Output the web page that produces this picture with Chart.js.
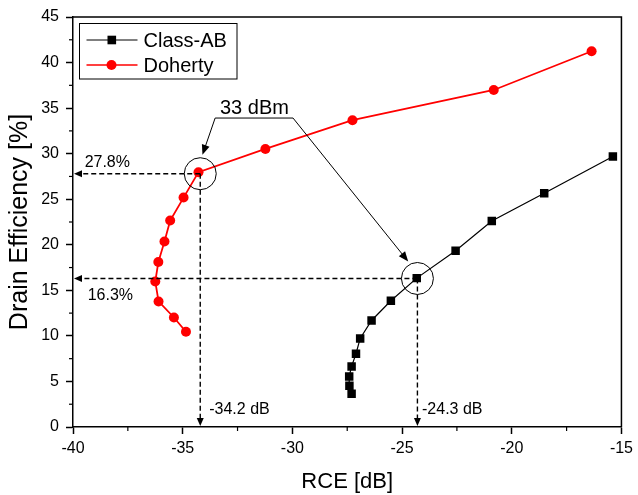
<!DOCTYPE html>
<html>
<head>
<meta charset="utf-8">
<script src="https://cdn.jsdelivr.net/npm/chart.js@4/dist/chart.umd.min.js"></script>
<style>
  html, body { margin: 0; padding: 0; background: #fff; }
  #wrap { width: 638px; height: 495px; }
</style>
</head>
<body>
<div id="wrap"><canvas id="chart" width="638" height="495"></canvas></div>
<script>
// values (RCE in dB, drain efficiency in %)
const classAbRce = [-27.30, -27.40, -27.41, -27.30, -27.10, -26.91, -26.39, -25.51, -24.33, -22.56, -20.91, -18.52, -15.39];
const classAbEff = [3.65, 4.53, 5.55, 6.65, 8.04, 9.72, 11.69, 13.85, 16.34, 19.34, 22.6, 25.66, 29.68];
const dohertyRce = [-34.85, -35.40, -36.10, -36.25, -36.11, -35.83, -35.57, -34.96, -34.28, -31.23, -27.26, -20.82, -16.36];
const dohertyEff = [10.45, 12.02, 13.78, 15.97, 18.1, 20.36, 22.66, 25.18, 27.97, 30.52, 33.67, 36.99, 41.24];

const xRange = [-40, -15];
const yRange = [0, 45];
const majorStep = 5;
const minorStep = 2.5;

// 33 dBm operating points
const markRce = [-34.2, -24.3];
const markEff = [27.8, 16.3];
const markRceLabels = ["-34.2 dB", "-24.3 dB"];
const markEffLabels = ["27.8%", "16.3%"];

const FONT = "'Liberation Sans', Arial, sans-serif";

function toPoints(xs, ys) {
    return xs.map((v, i) => ({ x: v, y: ys[i] }));
}

function arrow(ctx, x0, y0, x1, y1, len, half, dash) {
    const ang = Math.atan2(y1 - y0, x1 - x0);
    const c = Math.cos(ang), s = Math.sin(ang);
    ctx.save();
    ctx.setLineDash(dash || []);
    ctx.beginPath();
    ctx.moveTo(x0, y0);
    ctx.lineTo(x1 - c * len * 0.7, y1 - s * len * 0.7);
    ctx.stroke();
    ctx.setLineDash([]);
    ctx.beginPath();
    ctx.moveTo(x1, y1);
    ctx.lineTo(x1 - c * len - s * half, y1 - s * len + c * half);
    ctx.lineTo(x1 - c * len + s * half, y1 - s * len - c * half);
    ctx.closePath();
    ctx.fill();
    ctx.restore();
}

const decorPlugin = {
    id: "decor",
    afterDatasetsDraw(chart) {
        const { ctx, chartArea: a, scales: { x, y } } = chart;
        ctx.save();
        ctx.strokeStyle = "#000";
        ctx.fillStyle = "#000";

        // frame top and right
        ctx.lineWidth = 1.5;
        ctx.beginPath();
        ctx.moveTo(a.left, a.top);
        ctx.lineTo(a.right, a.top);
        ctx.lineTo(a.right, a.bottom);
        ctx.stroke();

        // minor ticks
        ctx.lineWidth = 1.2;
        for (let v = xRange[0] + minorStep; v < xRange[1]; v += majorStep) {
            const px = x.getPixelForValue(v);
            ctx.beginPath();
            ctx.moveTo(px, a.bottom);
            ctx.lineTo(px, a.bottom + 4);
            ctx.stroke();
        }
        for (let v = yRange[0] + minorStep; v < yRange[1]; v += majorStep) {
            const py = y.getPixelForValue(v);
            ctx.beginPath();
            ctx.moveTo(a.left, py);
            ctx.lineTo(a.left - 4, py);
            ctx.stroke();
        }

        // dashed guide lines with arrows to the axes
        ctx.lineWidth = 1.4;
        const dash = [5, 3];
        markRce.forEach((r, i) => {
            const px = x.getPixelForValue(r);
            const py = y.getPixelForValue(markEff[i]);
            arrow(ctx, px, py, a.left + 1, py, 8, 3.5, dash);
            arrow(ctx, px, py, px, a.bottom - 1, 8, 3.5, dash);
            // circle around the point
            ctx.lineWidth = 1;
            ctx.beginPath();
            ctx.arc(px, py, 16, 0, Math.PI * 2);
            ctx.stroke();
            ctx.lineWidth = 1.4;
        });

        // labels
        ctx.font = "16px " + FONT;
        ctx.textBaseline = "middle";
        ctx.textAlign = "left";
        ctx.fillText(markEffLabels[0], x.getPixelForValue(-39.47), y.getPixelForValue(29.0));
        ctx.fillText(markEffLabels[1], x.getPixelForValue(-39.33), y.getPixelForValue(14.4));
        ctx.fillText(markRceLabels[0], x.getPixelForValue(-33.79), y.getPixelForValue(1.9));
        ctx.fillText(markRceLabels[1], x.getPixelForValue(-24.09), y.getPixelForValue(1.9));

        // "33 dBm" callout
        ctx.font = "20px " + FONT;
        ctx.textAlign = "center";
        ctx.fillText("33 dBm", x.getPixelForValue(-31.73), y.getPixelForValue(35.0));
        const bx0 = x.getPixelForValue(-33.52), bx1 = x.getPixelForValue(-29.97);
        const by = y.getPixelForValue(33.91);
        ctx.lineWidth = 1;
        ctx.beginPath();
        ctx.moveTo(bx0, by);
        ctx.lineTo(bx1, by);
        ctx.stroke();
        arrow(ctx, bx0, by, x.getPixelForValue(-34.10), y.getPixelForValue(29.87), 10, 4);
        arrow(ctx, bx1, by, x.getPixelForValue(-24.72), y.getPixelForValue(18.16), 10, 4);

        // legend
        const lx = 79.5, ly = 23.5, lw = 157.5, lh = 55.5;
        ctx.lineWidth = 1;
        ctx.strokeRect(lx, ly, lw, lh);
        const rows = [
            { label: "Class-AB", color: "#000", style: "rect", cy: 40 },
            { label: "Doherty", color: "#ff0000", style: "circle", cy: 65 }
        ];
        ctx.font = "20px " + FONT;
        ctx.textAlign = "left";
        rows.forEach(r => {
            ctx.strokeStyle = r.color;
            ctx.fillStyle = r.color;
            ctx.lineWidth = r.style === "rect" ? 1 : 1.6;
            ctx.beginPath();
            ctx.moveTo(86.5, r.cy);
            ctx.lineTo(137.5, r.cy);
            ctx.stroke();
            if (r.style === "rect") {
                ctx.fillRect(107.5, r.cy - 4.3, 8.6, 8.6);
            } else {
                ctx.beginPath();
                ctx.arc(111.5, r.cy, 5, 0, Math.PI * 2);
                ctx.fill();
            }
            ctx.fillStyle = "#000";
            ctx.fillText(r.label, 143.5, r.cy + 1);
        });
        ctx.restore();
    }
};

new Chart(document.getElementById("chart"), {
    type: "scatter",
    data: {
        datasets: [
            {
                label: "Class-AB",
                data: toPoints(classAbRce, classAbEff),
                showLine: true,
                borderColor: "#000",
                backgroundColor: "#000",
                borderWidth: 1.2,
                pointStyle: "rect",
                pointRadius: 6,
                pointBorderWidth: 0,
                tension: 0,
            },
            {
                label: "Doherty",
                data: toPoints(dohertyRce, dohertyEff),
                showLine: true,
                borderColor: "#ff0000",
                backgroundColor: "#ff0000",
                borderWidth: 1.8,
                pointStyle: "circle",
                pointRadius: 5,
                pointBorderWidth: 0,
                tension: 0,
            },
        ],
    },
    options: {
        responsive: false,
        animation: false,
        devicePixelRatio: 1,
        layout: { padding: { left: 0, right: 13, top: 17, bottom: 0 } },
        plugins: {
            legend: { display: false },
            tooltip: { enabled: false },
        },
        scales: {
            x: {
                type: "linear",
                min: xRange[0],
                max: xRange[1],
                afterFit: s => { s.height = 68; },
                border: { display: true, color: "#000", width: 1.5 },
                grid: { drawOnChartArea: false, tickLength: 7, tickColor: "#000", tickWidth: 1.5 },
                ticks: { stepSize: majorStep, color: "#000", padding: 5, font: { family: FONT, size: 16 } },
                title: { display: true, text: "RCE [dB]", color: "#000", padding: { top: 0, bottom: 0 }, font: { family: FONT, size: 22 } },
            },
            y: {
                type: "linear",
                min: yRange[0],
                max: yRange[1],
                afterFit: s => { s.width = 73; },
                border: { display: true, color: "#000", width: 1.5 },
                grid: { drawOnChartArea: false, tickLength: 7, tickColor: "#000", tickWidth: 1.5 },
                ticks: { stepSize: majorStep, color: "#000", padding: 7, font: { family: FONT, size: 16 } },
                title: { display: true, text: "Drain Efficiency [%]", color: "#000", padding: { top: 5, bottom: 0 }, font: { family: FONT, size: 25 } },
            },
        },
    },
    plugins: [decorPlugin],
});
</script>
</body>
</html>
